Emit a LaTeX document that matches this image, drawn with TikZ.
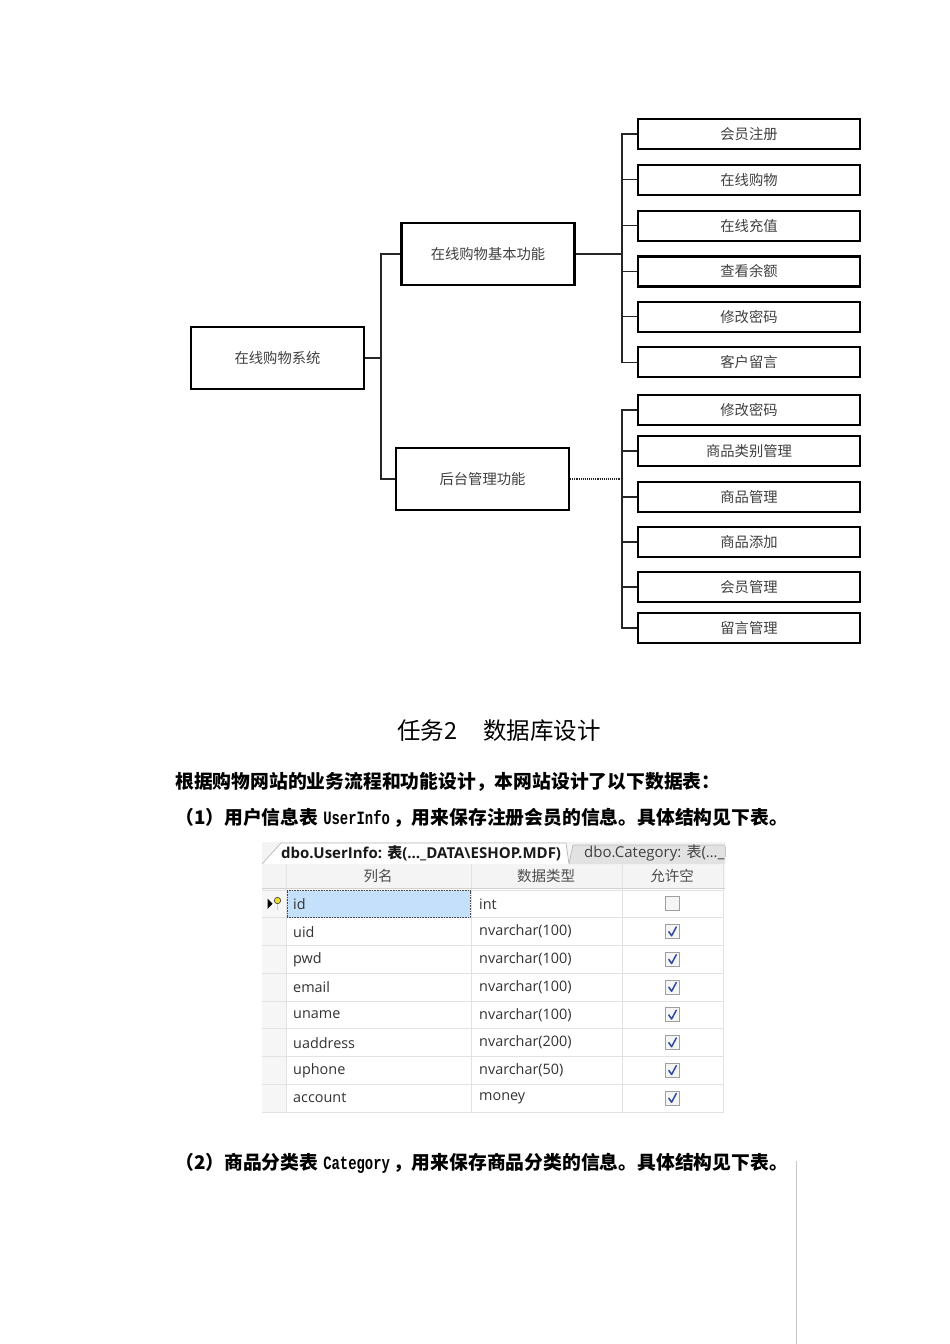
\documentclass[tikz,border=0pt]{standalone}
\usepackage{fontspec}
\setmainfont{Liberation Serif}
\newfontfamily\cjk{Noto Sans CJK SC}
\newfontfamily\uifont{Open Sans}
\newfontfamily\codefont[FakeStretch=0.74]{Liberation Mono}
\usetikzlibrary{positioning}

\definecolor{selblue}{RGB}{196,224,251}
\definecolor{gridgray}{RGB}{226,226,226}
\definecolor{hdrgray}{RGB}{244,244,244}
\definecolor{tabgray}{RGB}{226,226,226}
\definecolor{checkblue}{RGB}{45,75,160}
\definecolor{keyyellow}{RGB}{240,220,40}

\begin{document}
\begin{tikzpicture}[
    x=1pt, y=-1pt,
    every node/.style={inner sep=0pt},
    box/.style={rectangle, draw=black, line width=2.2pt, fill=white,
        minimum width=173pt, minimum height=62pt,
        font=\cjk\fontsize{14.3}{16}\selectfont, text=black!75},
    leaf/.style={box, minimum width=222pt, minimum height=30pt},
    link/.style={line width=1.1pt, draw=black!85},
    para/.style={anchor=west, font=\cjk\bfseries\fontsize{18.8}{22}\selectfont},
    cell/.style={anchor=west, font=\uifont\fontsize{14.4}{16}\selectfont, text=black!80},
    colhead/.style={font=\cjk\fontsize{14.5}{16}\selectfont, text=black!70},
    grid/.style={draw=gridgray, line width=0.8pt},
    checkbox/.style={fill=gray!8, draw=gray!75, line width=0.9pt}
]
\useasboundingbox (0,0) rectangle (950,1344);

% Albero delle funzioni
\node[box] (sys) at (277.5,358) {在线购物系统};
\node[box] (basic) at (488,254) {在线购物基本功能};
\node[box] (admin) at (482.5,479) {后台管理功能};

% Funzioni di base
\node[leaf] (reg) at (749,134) {会员注册};
\node[leaf, below=13.6pt of reg] (buy) {在线购物};
\node[leaf, below=13.6pt of buy] (charge) {在线充值};
\node[leaf, below=13.6pt of charge] (balance) {查看余额};
\node[leaf, below=13.2pt of balance] (pwd) {修改密码};
\node[leaf, below=13.2pt of pwd] (msg) {客户留言};

% Funzioni di gestione
\node[leaf] (adpwd) at (749,410) {修改密码};
\node[leaf] (cat) at (749,451) {商品类别管理};
\node[leaf] (goods) at (749,497) {商品管理};
\node[leaf] (addgoods) at (749,542) {商品添加};
\node[leaf] (members) at (749,587) {会员管理};
\node[leaf] (msgs) at (749,628) {留言管理};

% Collegamenti
\coordinate (j0) at (381,358);
\coordinate (j1) at (622,254);
\coordinate (j2) at (622,479);
\draw[link] (sys.east) -- (j0);
\draw[link] (j0) |- (basic.west);
\draw[link] (j0) |- (admin.west);

\draw[link] (basic.east) -- (j1);
\draw[link] (j1) |- (reg.west);
\draw[link] (j1) |- (buy.west);
\draw[link] (j1) |- (charge.west);
\draw[link] (j1) |- (balance.west);
\draw[link] (j1) |- (pwd.west);
\draw[link] (j1) |- (msg.west);

\draw[link, densely dotted] (admin.east) -- (j2);
\draw[link] (j2) |- (adpwd.west);
\draw[link] (j2) |- (cat.west);
\draw[link] (j2) |- (goods.west);
\draw[link] (j2) |- (addgoods.west);
\draw[link] (j2) |- (members.west);
\draw[link] (j2) |- (msgs.west);

% Testo
\node[font=\cjk\fontsize{23.5}{26}\selectfont] (title) at (499,731) {任务2\hspace{26pt}数据库设计};
\node[para] (intro) at (175,782) {根据购物网站的业务流程和功能设计，本网站设计了以下数据表：};
\node[para] (item1) at (175,818) {（1）用户信息表\hspace{5pt}{\codefont UserInfo}\hspace{3pt}，用来保存注册会员的信息。具体结构见下表。};
\node[para] (item2) at (175,1163) {（2）商品分类表\hspace{5pt}{\codefont Category}\hspace{3pt}，用来保存商品分类的信息。具体结构见下表。};
\draw[gray!45, line width=0.8pt] (796,1161) -- (796,1344);

% Tabella UserInfo
\fill[hdrgray] (262,842) rectangle (725,888);
\begin{scope}
\clip (262,840) rectangle (725,864);
\filldraw[fill=tabgray, draw=gray!55, line width=0.7pt] (569,864) -- (573,845) -- (740,845) -- (740,864);
\node[anchor=west, font=\uifont\fontsize{15}{17}\selectfont, text=black!75] (tab2) at (584,853)
    {dbo.Category: {\cjk 表}(…\_D};
\end{scope}
\filldraw[fill=white, draw=gray!55, line width=0.7pt] (262,864) -- (281,843) -- (566,843) -- (569,864);
\node[anchor=west, font=\uifont\bfseries\fontsize{15}{17}\selectfont, text=black!90] (tab1) at (281,853)
    {dbo.UserInfo: {\cjk 表}(…\_DATA\textbackslash ESHOP.MDF)};

\node[colhead] (hname) at (378,876) {列名};
\node[colhead] (htype) at (546,876) {数据类型};
\node[colhead] (hnull) at (672,876) {允许空};

\fill[white] (286,889) rectangle (723,1113);
\fill[gray!7] (262,889) rectangle (286,1113);
\foreach \k in {0,...,8}
    \draw[grid] (262,890+\k*27.75) -- (723,890+\k*27.75);
\foreach \cx in {286,471,622,723}
    \draw[grid] (\cx,864) -- (\cx,1113);
\draw[gray!35, line width=0.6pt] (262,888) -- (725,888);

\filldraw[fill=selblue, draw=black!70, densely dotted, line width=0.6pt] (287,890.5) rectangle (470,917.5);
\fill[black] (267.5,898.5) -- (267.5,909) -- (272.5,903.7) -- cycle;
\filldraw[fill=keyyellow, draw=black!80, line width=0.6pt] (277.5,900.5) circle (3.2);
\draw[black!80, line width=1.4pt] (277.5,903.7) -- (277.5,910);
\draw[keyyellow, line width=0.7pt] (277.5,904) -- (277.5,909.5);

\node[cell] (n1) at (293,903.9) {id};
\node[cell] (t1) at (479,903.9) {int};
\node[cell] (n2) at (293,931.6) {uid};
\node[cell] (t2) at (479,931.6) {nvarchar(100)};
\node[cell] (n3) at (293,959.4) {pwd};
\node[cell] (t3) at (479,959.4) {nvarchar(100)};
\node[cell] (n4) at (293,987.1) {email};
\node[cell] (t4) at (479,987.1) {nvarchar(100)};
\node[cell] (n5) at (293,1014.9) {uname};
\node[cell] (t5) at (479,1014.9) {nvarchar(100)};
\node[cell] (n6) at (293,1042.6) {uaddress};
\node[cell] (t6) at (479,1042.6) {nvarchar(200)};
\node[cell] (n7) at (293,1070.4) {uphone};
\node[cell] (t7) at (479,1070.4) {nvarchar(50)};
\node[cell] (n8) at (293,1098.1) {account};
\node[cell] (t8) at (479,1098.1) {money};

% Caselle
\filldraw[checkbox] (665.5,896.9) rectangle (679.5,910.9);
\foreach \k in {1,...,7} {
    \filldraw[checkbox] (665.5,896.9+\k*27.75) rectangle (679.5,910.9+\k*27.75);
    \draw[checkblue, line width=1.5pt, line cap=round, line join=round]
        (668.8,903.9+\k*27.75) -- (671.6,908+\k*27.75) -- (676.3,899.2+\k*27.75);
}

\end{tikzpicture}
\end{document}
